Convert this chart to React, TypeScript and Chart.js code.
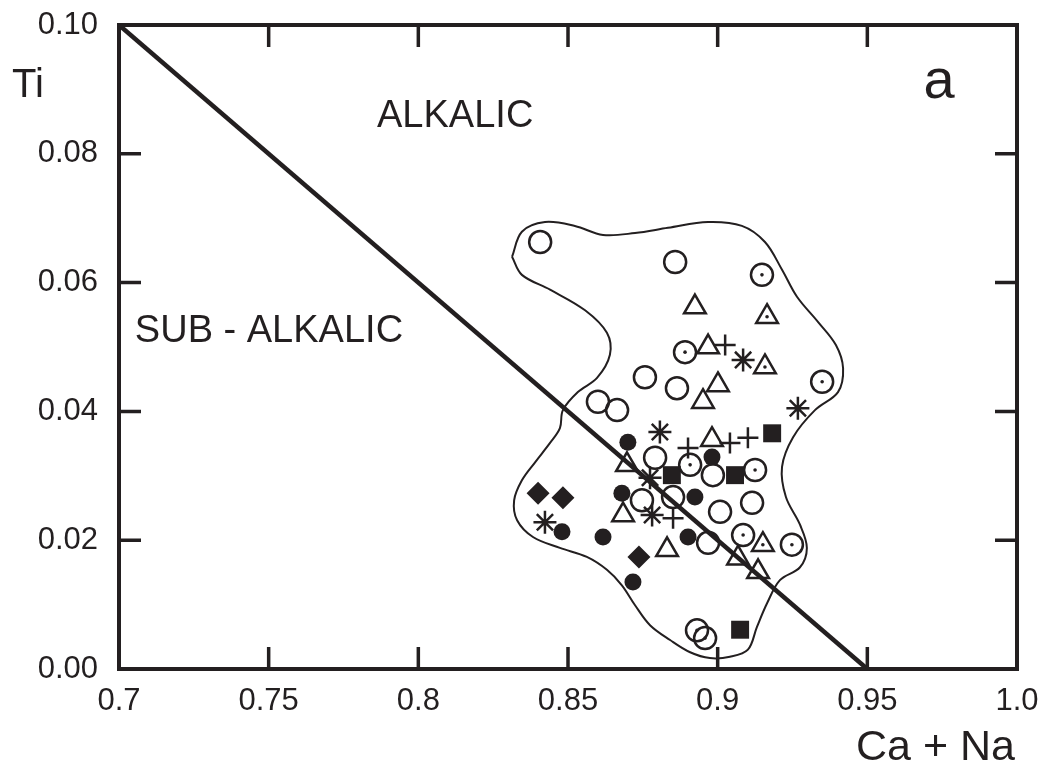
import React, { useEffect, useRef } from 'react';
import { Chart, registerables } from 'chart.js';

Chart.register(...registerables);

const INK = '#231f20';
const FONT = '"Liberation Sans", Arial, Helvetica, sans-serif';

// Axis ticks
const xTickValues = [0.7, 0.75, 0.8, 0.85, 0.9, 0.95, 1.0];
const xTickLabels = ['0.7', '0.75', '0.8', '0.85', '0.9', '0.95', '1.0'];
const yTickValues = [0, 0.02, 0.04, 0.06, 0.08, 0.1];
const yTickLabels = ['0.00', '0.02', '0.04', '0.06', '0.08', '0.10'];

// Texts
const yAxisTitle = 'Ti';
const xAxisTitle = 'Ca + Na';
const fieldUpper = 'ALKALIC';
const fieldLower = 'SUB - ALKALIC';
const panelLetter = 'a';

// Dividing line between the fields
const boundaryLine = [
  { x: 0.7, y: 0.1 },
  { x: 0.95, y: 0.0 },
];

// Envelope outline
const envelope = [
  { x: 0.8313, y: 0.064 }, { x: 0.8346, y: 0.0679 }, { x: 0.8423, y: 0.0694 },
  { x: 0.8523, y: 0.0688 }, { x: 0.8617, y: 0.0674 }, { x: 0.8724, y: 0.0677 },
  { x: 0.8834, y: 0.0685 }, { x: 0.8968, y: 0.0694 }, { x: 0.9081, y: 0.0688 },
  { x: 0.9158, y: 0.0663 }, { x: 0.9215, y: 0.062 }, { x: 0.9265, y: 0.0578 },
  { x: 0.9335, y: 0.0539 }, { x: 0.9395, y: 0.0503 }, { x: 0.9419, y: 0.0467 },
  { x: 0.9402, y: 0.043 }, { x: 0.9325, y: 0.0402 }, { x: 0.9252, y: 0.036 },
  { x: 0.9215, y: 0.0314 }, { x: 0.9228, y: 0.0267 }, { x: 0.9275, y: 0.0224 },
  { x: 0.9298, y: 0.0188 }, { x: 0.9275, y: 0.0158 }, { x: 0.9208, y: 0.0138 },
  { x: 0.9165, y: 0.0102 }, { x: 0.9131, y: 0.0065 }, { x: 0.9101, y: 0.003 },
  { x: 0.9041, y: 0.0019 }, { x: 0.8974, y: 0.0017 }, { x: 0.8908, y: 0.0026 },
  { x: 0.8841, y: 0.0045 }, { x: 0.8774, y: 0.0068 }, { x: 0.8724, y: 0.0099 },
  { x: 0.868, y: 0.013 }, { x: 0.863, y: 0.0154 }, { x: 0.8563, y: 0.0174 },
  { x: 0.8473, y: 0.0188 }, { x: 0.8383, y: 0.0205 }, { x: 0.833, y: 0.0231 },
  { x: 0.832, y: 0.0262 }, { x: 0.8346, y: 0.0293 }, { x: 0.839, y: 0.0321 },
  { x: 0.844, y: 0.0351 }, { x: 0.8473, y: 0.0374 }, { x: 0.8483, y: 0.0402 },
  { x: 0.8533, y: 0.043 }, { x: 0.8597, y: 0.0452 }, { x: 0.864, y: 0.0488 },
  { x: 0.863, y: 0.0522 }, { x: 0.8557, y: 0.0557 }, { x: 0.844, y: 0.0589 },
  { x: 0.8346, y: 0.0612 }, { x: 0.8313, y: 0.064 },
];

// Sample groups
const openCircles = [
  { x: 0.8407, y: 0.0663 }, { x: 0.8858, y: 0.0632 }, { x: 0.8757, y: 0.0453 },
  { x: 0.8864, y: 0.0436 }, { x: 0.86, y: 0.0415 }, { x: 0.8664, y: 0.0402 },
  { x: 0.8791, y: 0.0328 }, { x: 0.8747, y: 0.0262 }, { x: 0.8851, y: 0.0267 },
  { x: 0.8984, y: 0.0301 }, { x: 0.9008, y: 0.0244 }, { x: 0.9115, y: 0.0258 },
  { x: 0.8968, y: 0.0196 },
];
const dottedCircles = [
  { x: 0.9148, y: 0.0612 }, { x: 0.8891, y: 0.0492 }, { x: 0.9349, y: 0.0446 },
  { x: 0.8908, y: 0.0317 }, { x: 0.9125, y: 0.0309 }, { x: 0.9085, y: 0.0208 },
  { x: 0.9248, y: 0.0193 }, { x: 0.8931, y: 0.006 }, { x: 0.8958, y: 0.0048 },
];
const openTriangles = [
  { x: 0.8924, y: 0.0562 }, { x: 0.8968, y: 0.05 }, { x: 0.9001, y: 0.0441 },
  { x: 0.8951, y: 0.0415 }, { x: 0.8981, y: 0.0356 }, { x: 0.8697, y: 0.0317 },
  { x: 0.8684, y: 0.0239 }, { x: 0.8831, y: 0.0185 }, { x: 0.9068, y: 0.0172 },
  { x: 0.9135, y: 0.0151 },
];
const dottedTriangles = [
  { x: 0.9165, y: 0.0547 }, { x: 0.9158, y: 0.0469 }, { x: 0.9151, y: 0.0193 },
];
const asterisks = [
  { x: 0.9085, y: 0.048 }, { x: 0.9268, y: 0.0405 }, { x: 0.8807, y: 0.0368 },
  { x: 0.8774, y: 0.0297 }, { x: 0.8781, y: 0.0239 }, { x: 0.8423, y: 0.0228 },
];
const crosses = [
  { x: 0.9025, y: 0.0503 }, { x: 0.8901, y: 0.0343 }, { x: 0.9041, y: 0.0351 },
  { x: 0.9101, y: 0.0359 }, { x: 0.8851, y: 0.0234 },
];
const filledCircles = [
  { x: 0.87, y: 0.0352 }, { x: 0.8981, y: 0.0329 }, { x: 0.868, y: 0.0273 },
  { x: 0.8924, y: 0.0267 }, { x: 0.848, y: 0.0213 }, { x: 0.8617, y: 0.0205 },
  { x: 0.8901, y: 0.0205 }, { x: 0.8717, y: 0.0135 },
];
const filledSquares = [
  { x: 0.9182, y: 0.0366 }, { x: 0.8847, y: 0.0301 }, { x: 0.9058, y: 0.0301 },
  { x: 0.9075, y: 0.0061 },
];
const filledDiamonds = [
  { x: 0.84, y: 0.0273 }, { x: 0.8483, y: 0.0266 }, { x: 0.8737, y: 0.0174 },
];

const framePlugin = {
  id: 'frameAndText',
  afterDatasetsDraw(chart: any) {
    const { ctx, chartArea: a, scales } = chart;
    const xs = scales.x;
    const ys = scales.y;
    ctx.save();
    ctx.strokeStyle = INK;
    ctx.lineCap = 'butt';
    ctx.lineWidth = 4;
    ctx.strokeRect(a.left, a.top, a.right - a.left, a.bottom - a.top);
    ctx.lineWidth = 3.5;
    const tl = 22;
    ctx.beginPath();
    xTickValues.slice(1, -1).forEach((v) => {
      const px = xs.getPixelForValue(v);
      ctx.moveTo(px, a.bottom);
      ctx.lineTo(px, a.bottom - tl);
      ctx.moveTo(px, a.top);
      ctx.lineTo(px, a.top + tl);
    });
    yTickValues.slice(1, -1).forEach((v) => {
      const py = ys.getPixelForValue(v);
      ctx.moveTo(a.left, py);
      ctx.lineTo(a.left + tl, py);
      ctx.moveTo(a.right, py);
      ctx.lineTo(a.right - tl, py);
    });
    ctx.stroke();

    ctx.fillStyle = INK;
    ctx.textBaseline = 'alphabetic';
    ctx.textAlign = 'left';
    ctx.font = `38px ${FONT}`;
    ctx.fillText(fieldUpper, xs.getPixelForValue(0.7862), ys.getPixelForValue(0.0842));
    ctx.fillText(fieldLower, xs.getPixelForValue(0.7053), ys.getPixelForValue(0.0508));
    ctx.font = `56px ${FONT}`;
    ctx.fillText(panelLetter, xs.getPixelForValue(0.9688), ys.getPixelForValue(0.0887));
    ctx.font = `40px ${FONT}`;
    ctx.fillText(yAxisTitle, a.left - 107, a.top + 72);
    ctx.font = `43px ${FONT}`;
    ctx.textAlign = 'right';
    ctx.fillText(xAxisTitle, a.right - 2, a.bottom + 91);
    ctx.restore();
  },
};

const markerBase = {
  showLine: false,
  borderColor: INK,
  pointBorderColor: INK,
};

export default function App() {
  const canvasRef = useRef<HTMLCanvasElement | null>(null);

  useEffect(() => {
    if (!canvasRef.current) return;
    const chart = new Chart(canvasRef.current, {
      type: 'scatter',
      data: {
        datasets: [
          {
            ...markerBase,
            data: dottedCircles,
            pointStyle: 'circle',
            pointRadius: 1.8,
            pointBackgroundColor: INK,
            pointBorderWidth: 0,
          },
          {
            ...markerBase,
            data: dottedTriangles,
            pointStyle: 'circle',
            pointRadius: 1.8,
            pointBackgroundColor: INK,
            pointBorderWidth: 0,
          },
          {
            ...markerBase,
            data: openCircles,
            pointStyle: 'circle',
            pointRadius: 11,
            pointBorderWidth: 2.5,
            pointBackgroundColor: 'rgba(0,0,0,0)',
          },
          {
            ...markerBase,
            data: dottedCircles,
            pointStyle: 'circle',
            pointRadius: 11,
            pointBorderWidth: 2.5,
            pointBackgroundColor: 'rgba(0,0,0,0)',
          },
          {
            ...markerBase,
            data: openTriangles,
            pointStyle: 'triangle',
            pointRadius: 12.5,
            pointBorderWidth: 2.5,
            pointBackgroundColor: 'rgba(0,0,0,0)',
          },
          {
            ...markerBase,
            data: dottedTriangles,
            pointStyle: 'triangle',
            pointRadius: 12.5,
            pointBorderWidth: 2.5,
            pointBackgroundColor: 'rgba(0,0,0,0)',
          },
          {
            ...markerBase,
            data: asterisks,
            pointStyle: 'star',
            pointRadius: 11.5,
            pointBorderWidth: 2.5,
          },
          {
            ...markerBase,
            data: crosses,
            pointStyle: 'cross',
            pointRadius: 10.5,
            pointBorderWidth: 2.5,
          },
          {
            ...markerBase,
            data: filledCircles,
            pointStyle: 'circle',
            pointRadius: 8.5,
            pointBorderWidth: 0,
            pointBackgroundColor: INK,
          },
          {
            ...markerBase,
            data: filledSquares,
            pointStyle: 'rect',
            pointRadius: 12.7,
            pointBorderWidth: 0,
            pointBackgroundColor: INK,
          },
          {
            ...markerBase,
            data: filledDiamonds,
            pointStyle: 'rectRot',
            pointRadius: 11.5,
            pointBorderWidth: 0,
            pointBackgroundColor: INK,
          },
          {
            data: boundaryLine,
            showLine: true,
            borderColor: INK,
            borderWidth: 4.5,
            pointRadius: 0,
            tension: 0,
          },
          {
            data: envelope,
            showLine: true,
            borderColor: INK,
            borderWidth: 2,
            pointRadius: 0,
            tension: 0.35,
          },
        ] as any,
      },
      options: {
        animation: false,
        responsive: true,
        maintainAspectRatio: false,
        layout: { autoPadding: false, padding: { top: 25, right: 25, left: 0, bottom: 0 } },
        plugins: {
          legend: { display: false },
          tooltip: { enabled: false },
        },
        scales: {
          x: {
            type: 'linear',
            min: 0.7,
            max: 1.0,
            grid: { display: false, drawTicks: false },
            border: { display: false },
            afterBuildTicks: (s: any) => {
              s.ticks = xTickValues.map((v) => ({ value: v }));
            },
            afterFit: (s: any) => {
              s.height = 94;
              s.paddingLeft = 0;
              s.paddingRight = 0;
              s.paddingTop = 0;
              s.paddingBottom = 0;
            },
            ticks: {
              color: INK,
              padding: 14,
              maxRotation: 0,
              autoSkip: false,
              font: { family: FONT, size: 31 },
              callback: (_v: any, i: number) => xTickLabels[i],
            },
          },
          y: {
            type: 'linear',
            min: 0,
            max: 0.1,
            grid: { display: false, drawTicks: false },
            border: { display: false },
            afterBuildTicks: (s: any) => {
              s.ticks = yTickValues.map((v) => ({ value: v }));
            },
            afterFit: (s: any) => {
              s.width = 119;
              s.paddingLeft = 0;
              s.paddingRight = 0;
              s.paddingTop = 0;
              s.paddingBottom = 0;
            },
            ticks: {
              color: INK,
              padding: 21,
              autoSkip: false,
              font: { family: FONT, size: 31 },
              callback: (_v: any, i: number) => yTickLabels[i],
            },
          },
        },
      },
      plugins: [framePlugin],
    });
    return () => chart.destroy();
  }, []);

  return (
    <div style={{ position: 'absolute', left: 0, top: 0, width: 1042, height: 763, background: '#fff' }}>
      <canvas ref={canvasRef} />
    </div>
  );
}
